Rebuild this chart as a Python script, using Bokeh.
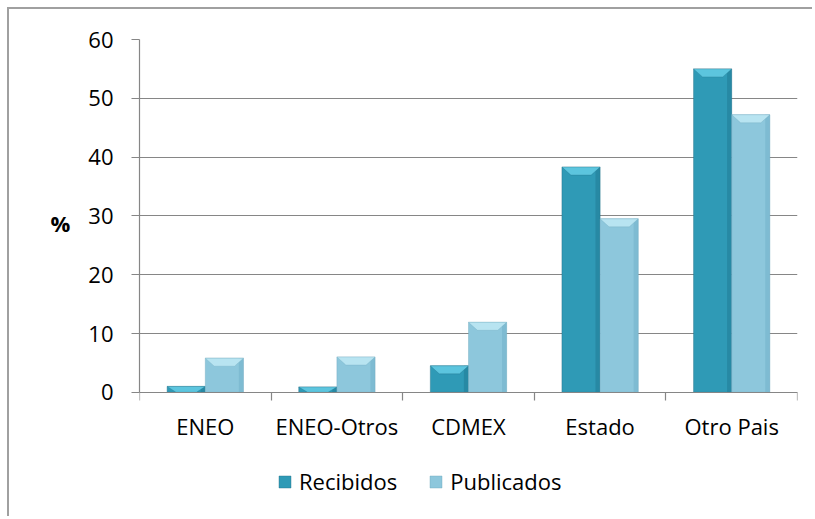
from bokeh.plotting import figure
from bokeh.models import (Range1d, FixedTicker, Legend, LegendItem, ColumnDataSource)
from bokeh.embed import file_html
from bokeh.resources import INLINE

categories = ["ENEO", "ENEO-Otros", "CDMEX", "Estado", "Otro Pais"]
recibidos = [1.0, 0.9, 4.5, 38.3, 55.0]
publicados = [5.8, 6.0, 11.9, 29.5, 47.2]
y_ticks = [0, 10, 20, 30, 40, 50, 60]
series_names = ["Recibidos", "Publicados"]
y_label = "%"

FONT = "Open Sans"
GRID = "#868686"
BAR_W = 0.29
OFFS = [-0.145, 0.145]
BODY = ["#2F9AB6", "#8DC7DC"]
TOP = ["#5CC5DE", "#B8E4F1"]
SIDE = ["#1F7892", "#6FB0C7"]
EDGE = ["#236F86", "#6EA9BD"]
BEVEL_Y = 1.36
BEVEL_X = 0.068
SIDE_W = 0.035

W, H = 805, 509
TOP_B, BOT_B = 30, 5
PX_PER_UNIT = 5.88
y_span = (H - TOP_B - BOT_B) / PX_PER_UNIT
y_max = y_ticks[-1]

p = figure(width=W, height=H, x_range=Range1d(-0.5, 4.5), y_range=Range1d(y_max - y_span, y_max),
           output_backend="svg", toolbar_location=None,
           min_border_left=130, min_border_right=17, min_border_top=TOP_B, min_border_bottom=BOT_B)
p.styles = {"margin-left": "7px", "margin-top": "7px",
            "border-left": "2px solid #a0a0a0", "border-top": "2px solid #a0a0a0"}
p.outline_line_color = None
p.background_fill_color = "white"
p.border_fill_color = "white"
p.xgrid.visible = False
p.ygrid.grid_line_color = GRID
p.ygrid.grid_line_width = 1.2
p.ygrid.ticker = FixedTicker(ticks=y_ticks)

renderers = []
for k, vals in enumerate([recibidos, publicados]):
    xs = [i + OFFS[k] for i in range(len(categories))]
    src = ColumnDataSource(dict(x=xs, top=vals))
    r = p.vbar(x="x", top="top", width=BAR_W, bottom=0, source=src,
               fill_color=BODY[k], line_color=EDGE[k], line_width=0.6, line_alpha=0.7)
    renderers.append(r)
    p.quad(left=[x + BAR_W / 2 - SIDE_W for x in xs], right=[x + BAR_W / 2 for x in xs],
           bottom=[0] * len(vals), top=vals, fill_color=SIDE[k], line_color=None, fill_alpha=0.5)
    pxs, pys = [], []
    for x, v in zip(xs, vals):
        h = min(BEVEL_Y, v)
        x0, x1 = x - BAR_W / 2, x + BAR_W / 2
        pxs.append([x0, x1, x1 - BEVEL_X, x0 + BEVEL_X])
        pys.append([v, v, v - h, v - h])
    p.patches(pxs, pys, fill_color=TOP[k], line_color=EDGE[k], line_width=0.5, line_alpha=0.6)

# y axis
ya = p.yaxis[0]
ya.ticker = FixedTicker(ticks=y_ticks)
ya.bounds = (0, y_max)
ya.axis_line_color = GRID
ya.axis_line_width = 1.2
ya.major_tick_line_color = GRID
ya.major_tick_line_width = 1.2
ya.major_tick_out = 8
ya.major_tick_in = 0
ya.minor_tick_line_color = None
ya.major_label_standoff = 18
ya.major_label_text_font = FONT
ya.major_label_text_font_size = "22px"
ya.major_label_text_color = "black"
# trailing blank lines lift the label to the middle of the 0-60 span
ya.axis_label = y_label + "\n\n\n"
ya.axis_label_orientation = "horizontal"
ya.axis_label_standoff = 15
ya.axis_label_text_font = FONT
ya.axis_label_text_font_size = "22px"
ya.axis_label_text_font_style = "bold"
ya.axis_label_text_color = "black"

# x axis at y = 0
xa = p.xaxis[0]
xa.fixed_location = 0
xa.ticker = FixedTicker(ticks=list(range(len(categories))),
                        minor_ticks=[i - 0.5 for i in range(len(categories) + 1)])
xa.major_label_overrides = {i: c for i, c in enumerate(categories)}
xa.axis_line_color = GRID
xa.axis_line_width = 1.2
xa.major_tick_out = 0
xa.major_tick_in = 0
xa.major_tick_line_color = None
xa.minor_tick_line_color = GRID
xa.minor_tick_line_width = 1.2
xa.minor_tick_out = 8
xa.minor_tick_in = 0
xa.major_label_standoff = 11
xa.major_label_text_font = FONT
xa.major_label_text_font_size = "22px"
xa.major_label_text_color = "black"

legend = Legend(items=[LegendItem(label=series_names[0], renderers=[renderers[0]]),
                       LegendItem(label=series_names[1], renderers=[renderers[1]])],
                orientation="horizontal", location=(138, 17))
legend.border_line_color = None
legend.background_fill_alpha = 0
legend.padding = 0
legend.margin = 0
legend.spacing = 31
legend.glyph_width = 15
legend.glyph_height = 15
legend.label_standoff = 7
legend.label_text_font = FONT
legend.label_text_font_size = "22px"
legend.label_text_color = "black"
p.add_layout(legend, "center")

open("out.html", "w").write(file_html(p, INLINE))
